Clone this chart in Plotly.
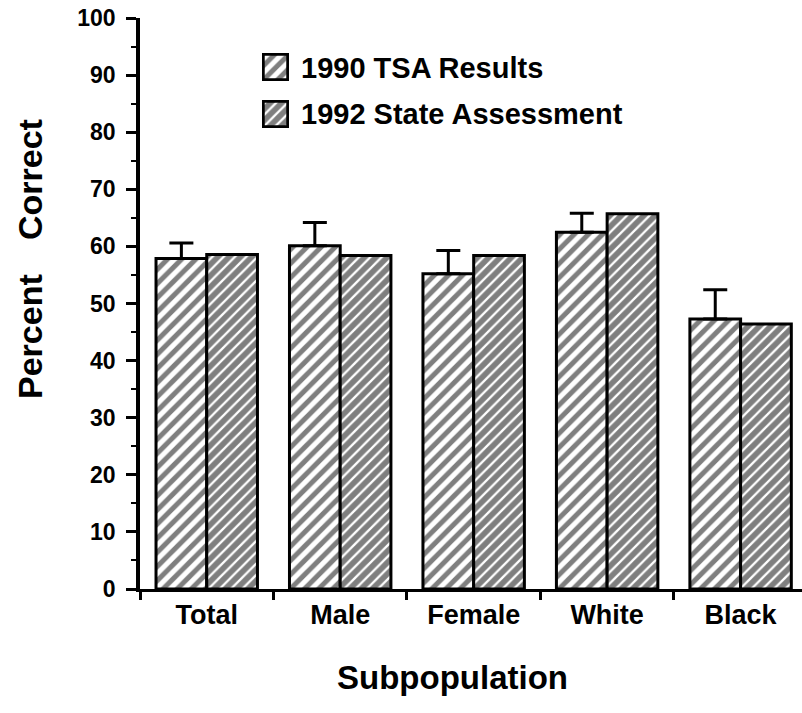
import plotly.graph_objects as go

categories = ["Total", "Male", "Female", "White", "Black"]
tsa_1990 = [57.9, 60.1, 55.2, 62.5, 47.3]
tsa_err = [2.7, 4.1, 4.1, 3.3, 5.1]
state_1992 = [58.6, 58.4, 58.4, 65.7, 46.4]
series_names = ["1990 TSA Results", "1992 State Assessment"]
y_ticks = list(range(0, 101, 10))

FONT = "Liberation Sans, Arial, Helvetica, sans-serif"
pat_tsa = dict(shape="/", fgcolor="black", bgcolor="white", size=10, solidity=0.5)
pat_state = dict(shape="/", fgcolor="black", bgcolor="white", size=8, solidity=0.72)

fig = go.Figure()
fig.add_trace(go.Bar(
    x=categories, y=tsa_1990, name=series_names[0], showlegend=False,
    marker=dict(color="white", pattern=pat_tsa, line=dict(color="black", width=3)),
    error_y=dict(type="data", array=tsa_err, symmetric=False,
                 arrayminus=[0] * len(tsa_err), color="black", thickness=3, width=12),
))
fig.add_trace(go.Bar(
    x=categories, y=state_1992, name=series_names[1], showlegend=False,
    marker=dict(color="white", pattern=pat_state, line=dict(color="black", width=3)),
))

# legend swatches as tiny patterned bars in their own small axes
fig.add_trace(go.Bar(x=[0], y=[1], width=[1], xaxis="x2", yaxis="y2", showlegend=False,
                     hoverinfo="skip",
                     marker=dict(color="white", pattern=pat_tsa, line=dict(color="black", width=3))))
fig.add_trace(go.Bar(x=[0], y=[1], width=[1], xaxis="x3", yaxis="y3", showlegend=False,
                     hoverinfo="skip",
                     marker=dict(color="white", pattern=pat_state, line=dict(color="black", width=3))))

W, H = 802, 713
L, R, T, B = 140, 0, 18, 124
pw, ph = W - L - R, H - T - B

def px_x(p):
    return (p - L) / pw

def px_y(p):
    return (H - B - p) / ph

hidden = dict(visible=False, showgrid=False, zeroline=False, fixedrange=True)
fig.update_layout(
    width=W, height=H,
    margin=dict(l=L, r=R, t=T, b=B),
    paper_bgcolor="white", plot_bgcolor="white",
    barmode="group", bargap=0.24, bargroupgap=0,
    font=dict(family=FONT, color="black"),
    xaxis=dict(
        type="category", range=[-0.5, 4.46], tickson="boundaries",
        ticks="outside", ticklen=8, tickwidth=2.5, tickcolor="black",
        showline=True, linewidth=3, linecolor="black", showgrid=False, zeroline=False,
        tickfont=dict(family=FONT, size=27, color="black", weight="bold"),
    ),
    yaxis=dict(
        range=[0, 100], tickvals=y_ticks, ticks="outside", ticklen=10, tickwidth=2.5,
        tickcolor="black", showline=True, linewidth=3.5, linecolor="black",
        showgrid=False, zeroline=False, ticklabelstandoff=6,
        minor=dict(dtick=5, ticks="outside", ticklen=5, tickwidth=2, tickcolor="black"),
        tickfont=dict(family=FONT, size=23, color="black", weight="bold"),
    ),
    xaxis2=dict(domain=[px_x(262), px_x(289)], range=[-0.55, 0.55], anchor="y2", **hidden),
    yaxis2=dict(domain=[px_y(81), px_y(53)], range=[-0.05, 1.05], anchor="x2", **hidden),
    xaxis3=dict(domain=[px_x(262), px_x(289)], range=[-0.55, 0.55], anchor="y3", **hidden),
    yaxis3=dict(domain=[px_y(128), px_y(100)], range=[-0.05, 1.05], anchor="x3", **hidden),
    showlegend=False,
)

annos = [
    dict(text=series_names[0], x=px_x(299), y=px_y(68), xanchor="left", yanchor="middle",
         font=dict(size=29, weight="bold")),
    dict(text=series_names[1], x=px_x(299), y=px_y(114), xanchor="left", yanchor="middle",
         font=dict(size=29, weight="bold")),
    dict(text="Percent", x=px_x(30), y=px_y(337), textangle=-90, xanchor="center",
         yanchor="middle", font=dict(size=34, weight="bold")),
    dict(text="Correct", x=px_x(30), y=px_y(180), textangle=-90, xanchor="center",
         yanchor="middle", font=dict(size=34, weight="bold")),
    dict(text="Subpopulation", x=px_x(452), y=px_y(677), xanchor="center", yanchor="middle",
         font=dict(size=33, weight="bold")),
]
for a in annos:
    a.update(xref="paper", yref="paper", showarrow=False)
    a["font"].update(family=FONT, color="black")
    fig.add_annotation(**a)

fig.write_html("out.html")
